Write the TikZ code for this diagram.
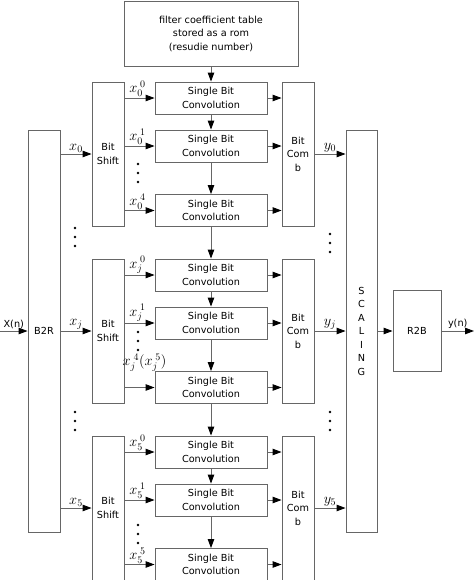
\documentclass[tikz,border=0pt]{standalone}
\usepackage{fontspec}
\setmainfont{DejaVu Sans}
\usetikzlibrary{arrows.meta}

\begin{document}
\begin{tikzpicture}[x=1pt,y=-1pt]
  \tikzset{blk/.style={draw=black!60,line width=0.9pt,inner sep=0pt,align=center,font=\fontsize{9.7}{13.5}\selectfont},
    convbox/.style={blk,minimum width=112pt,minimum height=32pt},
    tallbox/.style={blk,minimum width=32pt,minimum height=144pt},
    arr/.style={draw=black!60,line width=0.9pt,-{Triangle[length=9pt,width=6.5pt,color=black]}},
    lab/.style={font=\fontsize{14}{16}\selectfont,inner sep=1pt}}
  \useasboundingbox (0,0) rectangle (474,581);
  \clip (0,0) rectangle (474,579.5);

  \node[blk,minimum width=174pt,minimum height=65pt] (rom) at (211,33.5) {filter coefficient table\\stored as a rom\\(resudie number)};
  \node[blk,minimum width=32pt,minimum height=402pt] (b2r) at (44,331) {B2R};
  \node[blk,minimum width=31pt,minimum height=402pt] (scal) at (361.5,331) {S\\C\\A\\L\\I\\N\\G};
  \node[blk,minimum width=48pt,minimum height=81pt] (r2b) at (417,331) {R2B};

  \foreach \g/\yc/\tl/\xs/\ys in {0/154/{$x_0^{\;4}$}/-2/0,j/331/{$x_j^{\;4}(x_j^{\;5})$}/5/15,5/508/{$x_5^{\;5}$}/-2/0}
  {
    \node[tallbox] (bs\g) at (108,\yc) {Bit\\Shift};
    \node[tallbox] (bc\g) at (298,\yc) {Bit\\Com\\b};
    \node[convbox] (c\g-1) at (211,\yc-56) {Single Bit\\Convolution};
    \node[convbox] (c\g-2) at (211,\yc-8) {Single Bit\\Convolution};
    \node[convbox] (c\g-3) at (211,\yc+56.5) {Single Bit\\Convolution};
    \draw[arr] (b2r.east |- bs\g.west) -- (bs\g.west) node[lab,midway,above] {$x_\g$};
    \draw[arr] (bc\g.east) -- (scal.west |- bc\g.east) node[lab,midway,above] {$y_\g$};
    \draw[arr] (bs\g.east |- c\g-1.west) -- (c\g-1.west) node[lab,midway,above,xshift=-2pt] {$x_\g^{\;0}$};
    \draw[arr] (bs\g.east |- c\g-2.west) -- (c\g-2.west) node[lab,midway,above,xshift=-2pt] {$x_\g^{\;1}$};
    \draw[arr] (bs\g.east |- c\g-3.west) -- (c\g-3.west) node[lab,midway,above,xshift=\xs pt,yshift=\ys pt] {\tl};
    \foreach \k in {1,2,3}
      \draw[arr] (c\g-\k.east) -- (bc\g.west |- c\g-\k.east);
  }

  % chain of convolutions
  \foreach \a/\b in {rom/c0-1,c0-1/c0-2,c0-2/c0-3,c0-3/cj-1,cj-1/cj-2,cj-2/cj-3,cj-3/c5-1,c5-1/c5-2,c5-2/c5-3}
    \draw[arr] (\a) -- (\b);

  \coordinate (in) at (0,331);
  \coordinate (out) at (474,331);
  \draw[arr] (in) -- (b2r.west) node[midway,above,font=\fontsize{9.7}{12}\selectfont,inner sep=2pt] {X(n)};
  \draw[arr] (scal.east) -- (r2b.west);
  \draw[arr] (r2b.east) -- (out) node[midway,above,font=\fontsize{9.7}{12}\selectfont,inner sep=2pt] {y(n)};

  % dots
  \foreach \x/\y in {138/164,138/332,138/525,75/228,75/412,330/234,330/412}
    \foreach \d in {0,9,18}
      \fill (\x,\y+\d) circle (1.4pt);
\end{tikzpicture}
\end{document}
